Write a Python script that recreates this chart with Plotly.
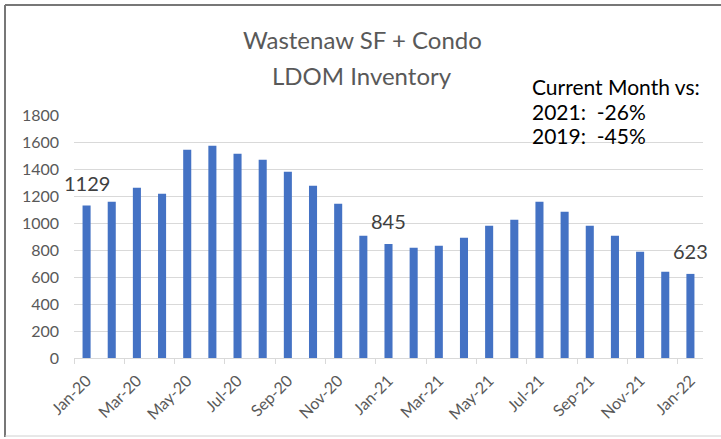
import plotly.graph_objects as go

months = ["Jan-20", "Feb-20", "Mar-20", "Apr-20", "May-20", "Jun-20", "Jul-20", "Aug-20",
          "Sep-20", "Oct-20", "Nov-20", "Dec-20", "Jan-21", "Feb-21", "Mar-21", "Apr-21",
          "May-21", "Jun-21", "Jul-21", "Aug-21", "Sep-21", "Oct-21", "Nov-21", "Dec-21", "Jan-22"]
inventory = [1129, 1158, 1261, 1217, 1543, 1573, 1513, 1469, 1380, 1276, 1143, 906, 845,
             817, 832, 891, 980, 1024, 1158, 1084, 980, 906, 787, 639, 623]
labelled = ["Jan-20", "Jan-21", "Jan-22"]
y_ticks = [0, 200, 400, 600, 800, 1000, 1200, 1400, 1600, 1800]
title_lines = ["Wastenaw SF + Condo", "LDOM Inventory"]
box_lines = ["Current Month vs:", "2021:  -26%", "2019:  -45%"]

FONT = "Lato"
W, H = 721, 439
L, R, T, B = 74, 18, 115, 81
pw, ph = W - L - R, H - T - B

def px_x(x):
    return (x - L) / pw

def px_y(y):
    return (H - B - y) / ph

fig = go.Figure()
fig.add_trace(go.Bar(x=months, y=inventory, marker=dict(color="#4472C4", line=dict(width=0)),
                     width=0.32, hoverinfo="skip"))

annotations = []
for m in labelled:
    v = inventory[months.index(m)]
    annotations.append(dict(x=m, y=v, xref="x", yref="y", text=str(v), showarrow=False,
                            yanchor="middle", yshift=23,
                            font=dict(family=FONT, size=20, color="#404040")))
for txt, yc in zip(title_lines, [39, 75]):
    annotations.append(dict(x=px_x(362), y=px_y(yc), xref="paper", yref="paper", text=txt,
                            showarrow=False, xanchor="center", yanchor="middle",
                            font=dict(family=FONT, size=24, color="#595959")))
for txt, yc in zip(box_lines, [86, 111, 135]):
    annotations.append(dict(x=px_x(530), y=px_y(yc), xref="paper", yref="paper", text=txt,
                            showarrow=False, xanchor="left", yanchor="middle",
                            font=dict(family=FONT, size=21, color="#000000")))

shapes = [
    dict(type="line", xref="paper", yref="paper", x0=px_x(5), x1=px_x(721), y0=px_y(5), y1=px_y(5),
         line=dict(color="#777777", width=2)),
    dict(type="line", xref="paper", yref="paper", x0=px_x(5), x1=px_x(5), y0=px_y(5), y1=px_y(437),
         line=dict(color="#777777", width=2)),
    dict(type="line", xref="paper", yref="paper", x0=px_x(5), x1=px_x(721), y0=px_y(436), y1=px_y(436),
         line=dict(color="#D0D0D0", width=1)),
]

fig.update_layout(
    width=W, height=H,
    margin=dict(l=L, r=R, t=T, b=B, autoexpand=False),
    paper_bgcolor="white", plot_bgcolor="white",
    showlegend=False,
    hovermode=False,
    annotations=annotations,
    shapes=shapes,
    xaxis=dict(type="category", tickmode="linear", tick0=0, dtick=2, tickson="boundaries",
               ticks="outside", ticklen=5, tickcolor="#D9D9D9", tickangle=-45,
               ticklabelstandoff=6,
               showline=True, linecolor="#D9D9D9", linewidth=1, showgrid=False,
               automargin=False, range=[-0.5, 24.5],
               tickfont=dict(family=FONT, size=16, color="#595959")),
    yaxis=dict(range=[0, 1800], tickmode="array", tickvals=y_ticks, showgrid=True,
               gridcolor="#D9D9D9", gridwidth=1, zeroline=False, showline=False,
               ticks="", ticklabelstandoff=14, automargin=False,
               tickfont=dict(family=FONT, size=16, color="#595959")),
)

fig.write_html("out.html", config={"displayModeBar": False},
               post_script="document.body.style.margin='0';document.body.style.overflow='hidden';")
